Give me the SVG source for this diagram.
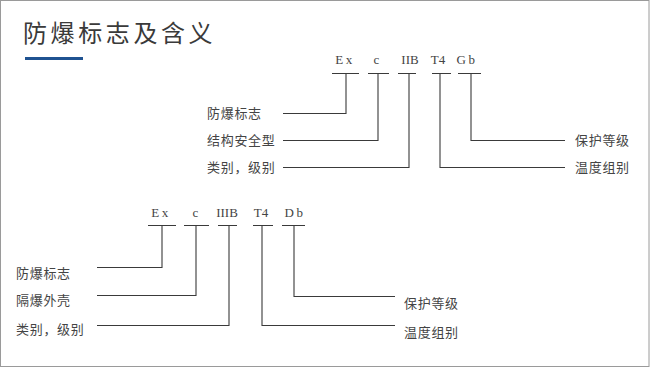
<svg xmlns="http://www.w3.org/2000/svg" width="650" height="368" viewBox="0 0 650 368">
<style>
.frame{fill:#fff;stroke:#9a9a9a;stroke-width:1}
.title{font-family:"Noto Sans CJK SC","Noto Sans",sans-serif;font-size:24px;fill:#3a3a3a;letter-spacing:3.6px}
.code{font-family:"Liberation Serif","DejaVu Serif",serif;font-size:13px;fill:#444;text-anchor:middle}
.lbl{font-family:"Noto Sans CJK SC","Noto Sans",sans-serif;font-size:13px;fill:#444;letter-spacing:0.7px}
.ln{fill:none;stroke:#3a3a3a;stroke-width:1.1}
</style>
<rect class="frame" x="0.5" y="0.5" width="648.5" height="366"/>
<g id="title">
<text class="title" x="23" y="42">防爆标志及含义</text>
<rect x="25" y="57" width="58" height="3" fill="#1f5291"/>
</g>
<g id="codes1">
<text class="code" x="345" y="64" letter-spacing="2.5">Ex</text>
<text class="code" x="376.5" y="64">c</text>
<text class="code" x="410" y="64">IIB</text>
<text class="code" x="438" y="64">T4</text>
<text class="code" x="467" y="64" letter-spacing="2.5">Gb</text>
</g>
<g id="labels1">
<text class="lbl" x="207" y="118">防爆标志</text>
<text class="lbl" x="207" y="145">结构安全型</text>
<text class="lbl" x="207" y="172">类别，级别</text>
<text class="lbl" x="575" y="145">保护等级</text>
<text class="lbl" x="575" y="172">温度组别</text>
</g>
<g id="codes2">
<text class="code" x="161" y="217" letter-spacing="2.5">Ex</text>
<text class="code" x="195.5" y="217">c</text>
<text class="code" x="227" y="217">IIIB</text>
<text class="code" x="261" y="217">T4</text>
<text class="code" x="295" y="217" letter-spacing="2.5">Db</text>
</g>
<g id="labels2">
<text class="lbl" x="16" y="278">防爆标志</text>
<text class="lbl" x="16" y="305">隔爆外壳</text>
<text class="lbl" x="16" y="334">类别，级别</text>
<text class="lbl" x="404" y="308">保护等级</text>
<text class="lbl" x="404" y="337">温度组别</text>
</g>
<g id="connectors">
<path class="ln" d="M332 73.5H359M368 73.5H389M398 73.5H416M432 73.5H451M458 73.5H481"/>
<path class="ln" d="M346 73.5V113.5H283"/>
<path class="ln" d="M378 73.5V140.5H283"/>
<path class="ln" d="M409 73.5V167.5H283"/>
<path class="ln" d="M440 73.5V167.5H565"/>
<path class="ln" d="M471 73.5V140.5H565"/>
<path class="ln" d="M148 225.5H176M184 225.5H209M218 225.5H237M253 225.5H273M282 225.5H305"/>
<path class="ln" d="M162 225.5V267.5H97"/>
<path class="ln" d="M196 225.5V295.5H97"/>
<path class="ln" d="M229 225.5V325.5H97"/>
<path class="ln" d="M262 225.5V325.5H395"/>
<path class="ln" d="M294 225.5V296.5H395"/>
</g>
</svg>
